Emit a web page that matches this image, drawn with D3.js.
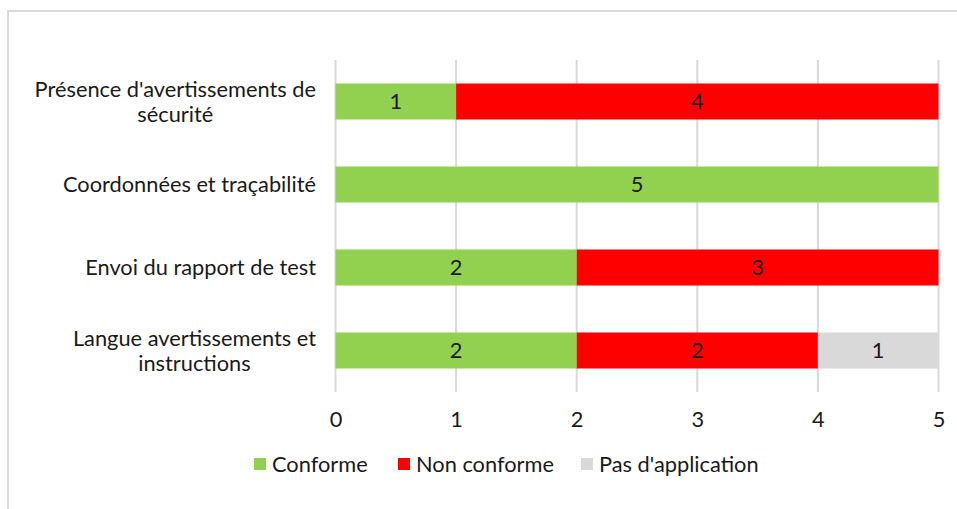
<!DOCTYPE html>
<html><head><meta charset="utf-8">
<script src="https://cdn.jsdelivr.net/npm/d3@7"></script>
<style>body{margin:0;background:#fff;}svg{display:block;font-family:Lato,"Open Sans",sans-serif;}</style>
</head><body><svg id="c" width="957" height="509"></svg>
<script>
const categories = [["Présence d'avertissements de","sécurité"],["Coordonnées et traçabilité"],["Envoi du rapport de test"],["Langue avertissements et","instructions"]];
const seriesNames = ["Conforme","Non conforme","Pas d'application"];
const conforme = [1,5,2,2];
const nonConforme = [4,0,3,2];
const pasApplication = [0,0,0,1];
const xTicks = [0,1,2,3,4,5];
const colors = ["#92d050","#ff0000","#d9d9d9"];

const FS = 21.8;
const svg = d3.select("#c");
// outer chart border
svg.append("rect").attr("x",8).attr("y",11).attr("width",1000).attr("height",600)
  .attr("fill","none").attr("stroke","#d9d9d9").attr("stroke-width",2);

const x = d3.scaleLinear().domain([0,5]).range([335.5,938.5]);
const y = d3.scaleBand().domain(d3.range(categories.length)).range([60,392]).paddingInner(0.566).paddingOuter(0.283);

// gridlines
svg.append("g").selectAll("line").data(xTicks).join("line")
  .attr("x1",d=>x(d)).attr("x2",d=>x(d)).attr("y1",60).attr("y2",392)
  .attr("stroke","#d9d9d9").attr("stroke-width",2);

const rows = categories.map((c,i)=>({i, vals:[conforme[i],nonConforme[i],pasApplication[i]]}));
const stack = [];
rows.forEach(r=>{let acc=0; r.vals.forEach((v,k)=>{ if(v>0) stack.push({i:r.i,k,x0:acc,x1:acc+v,v}); acc+=v;});});

svg.append("g").selectAll("rect").data(stack).join("rect")
  .attr("x",d=>x(d.x0)).attr("width",d=>x(d.x1)-x(d.x0))
  .attr("y",d=>y(d.i)).attr("height",y.bandwidth())
  .attr("fill",d=>colors[d.k]);

svg.append("g").selectAll("text").data(stack).join("text")
  .attr("x",d=>(x(d.x0)+x(d.x1))/2).attr("y",d=>y(d.i)+y.bandwidth()/2)
  .attr("dy","0.35em").attr("text-anchor","middle")
  .attr("font-size",FS).attr("fill","#1a1a1a").text(d=>d.v);

// x-axis tick labels
const xa = d3.axisBottom(x).tickValues(xTicks).tickFormat(d3.format("d")).tickSize(0).tickPadding(0);
const gx = svg.append("g").attr("transform","translate(0,419)").call(xa);
gx.select(".domain").remove();
gx.selectAll("text").attr("font-size",FS).attr("fill","#1a1a1a").attr("font-family","Lato").attr("dy","0.35em").attr("y",0);

// category labels
const lg = svg.append("g").attr("font-size",FS).attr("fill","#1a1a1a");
categories.forEach((lines,i)=>{
  const cy = y(i)+y.bandwidth()/2;
  const lh = 25;
  const ts = lines.map((l,j)=>lg.append("text").attr("text-anchor","middle")
     .attr("y",cy+(j-(lines.length-1)/2)*lh).attr("dy","0.35em").text(l));
  const w = d3.max(ts,t=>t.node().getComputedTextLength());
  ts.forEach(t=>t.attr("x",316-w/2));
});

// legend
const legX = [254,398,581];
const leg = svg.append("g").attr("font-size",FS).attr("fill","#1a1a1a");
seriesNames.forEach((n,k)=>{
  leg.append("rect").attr("x",legX[k]).attr("y",458).attr("width",12).attr("height",12).attr("fill",colors[k]);
  leg.append("text").attr("x",legX[k]+18).attr("y",464).attr("dy","0.35em").text(n);
});
</script></body></html>
